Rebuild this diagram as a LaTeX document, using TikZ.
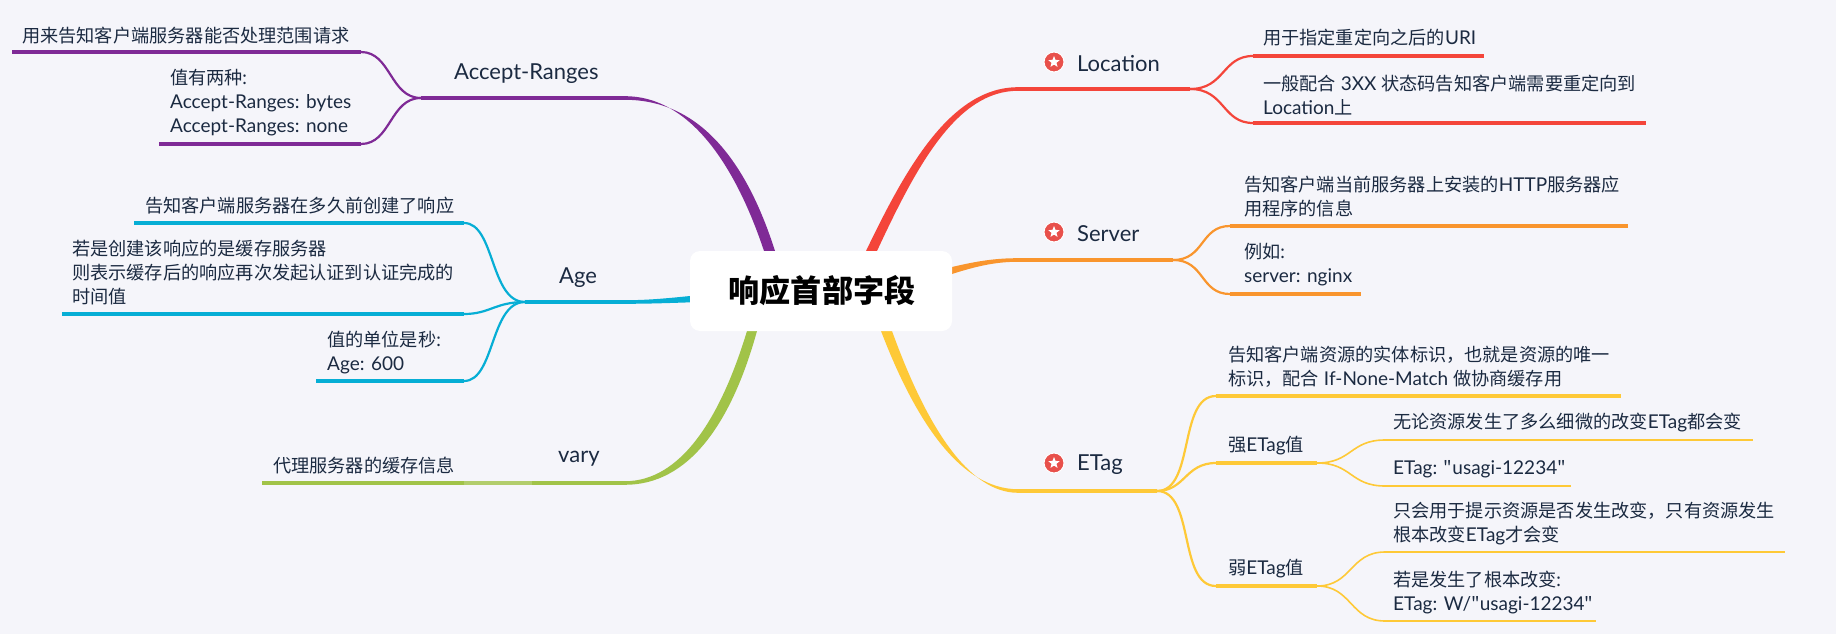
\documentclass[tikz,border=0pt]{standalone}
\usepackage{fontspec}
\setmainfont{Lato}
\newfontfamily\cjk{Noto Sans CJK SC}[Scale=0.957]
\newcommand{\zh}[1]{{\cjk #1}}
\usetikzlibrary{shapes.geometric}
\definecolor{pagebg}{HTML}{F5F5FA}
\definecolor{inkblue}{HTML}{1B2A41}
\definecolor{accLine}{HTML}{7F2A96}
\definecolor{ageLine}{HTML}{06AED5}
\definecolor{varyLine}{HTML}{A1C348}
\definecolor{locLine}{HTML}{F4453A}
\definecolor{srvLine}{HTML}{F9952D}
\definecolor{tagLine}{HTML}{FEC937}
\definecolor{iconRed}{HTML}{E8504B}
\tikzset{txt/.style = {anchor = west, inner sep = 0, align = left, text = inkblue, font = \fontsize{19}{24}\selectfont}}
\tikzset{lbl/.style = {anchor = west, inner sep = 0, yshift = -1.5pt, text = inkblue, font = \fontsize{22}{24}\selectfont}}
\tikzset{leaf/.style = {line width = 3.2pt}}
\tikzset{twig/.style = {line width = 2.2pt}}
\tikzset{iconball/.style = {circle, fill = iconRed, draw = white, line width = 1pt, inner sep = 0, minimum size = 20pt}}
\tikzset{iconstar/.style = {star, star points = 5, star point ratio = 2.3, fill = white, inner sep = 0, minimum size = 12pt}}
\begin{document}
\begin{tikzpicture}[x=1pt, y=-1pt]
\fill[pagebg] (0,0) rectangle (1836,634);
\useasboundingbox (0,0) rectangle (1836,634);

% thick branches running out of the hub
\fill[accLine] (625,96.2) .. controls (692,96.2) and (737,170) .. (764,251) -- (775,251) .. controls (746,160) and (699,99.8) .. (625,99.8) -- cycle;
\fill[locLine] (1018,87.2) .. controls (950,87.2) and (905,170) .. (866,251) -- (877,251) .. controls (917,165) and (957,90.8) .. (1018,90.8) -- cycle;
\fill[srvLine] (1018,258.2) .. controls (995,258.2) and (975,261) .. (940,270) -- (940,278) .. controls (975,266) and (995,261.8) .. (1018,261.8) -- cycle;
\fill[ageLine] (625,300.2) .. controls (650,300.2) and (670,298) .. (700,295) -- (700,302) .. controls (670,303) and (650,303.8) .. (625,303.8) -- cycle;
\fill[varyLine] (625,481.2) .. controls (680,481.2) and (720,420) .. (747,331) -- (757,331) .. controls (731,425) and (688,484.8) .. (625,484.8) -- cycle;
\fill[tagLine] (1018,489.2) .. controls (960,489.2) and (915,420) .. (881,331) -- (892,331) .. controls (926,425) and (968,492.8) .. (1018,492.8) -- cycle;

\node (hub) [fill = white, rounded corners = 10pt, minimum width = 262pt, minimum height = 80pt, inner sep = 0, font = \fontsize{32.5}{36}\selectfont\bfseries\cjk] at (821,291) {\hspace{2pt}响应首部字段};

% Accept-Ranges
\coordinate (accRoot) at (625,98);
\coordinate (accFork) at (421,98);
\coordinate (accA) at (361,52);
\coordinate (accB) at (361,144);
\coordinate (accAend) at (12,52);
\coordinate (accBend) at (159,144);
\node (accLbl) [lbl] at (454,72) {Accept-Ranges};
\node (accTxtA) [txt] at (22,35.5) {\zh{用来告知客户端服务器能否处理范围请求}};
\node (accTxtB) [txt] at (170,103) {\zh{值有两种:}\\Accept-Ranges: bytes\\Accept-Ranges: none};
\draw [accLine, leaf] (accRoot) -- (accFork);
\draw [accLine, twig] (accFork) .. controls (390,98) and (391,52) .. (accA);
\draw [accLine, twig] (accFork) .. controls (390,98) and (391,144) .. (accB);
\draw [accLine, leaf] (accA) -- (accAend);
\draw [accLine, leaf] (accB) -- (accBend);

% Age
\coordinate (ageRoot) at (625,302);
\coordinate (ageFork) at (525,302);
\coordinate (ageA) at (464,223);
\coordinate (ageB) at (464,314);
\coordinate (ageC) at (464,381);
\coordinate (ageAend) at (134,223);
\coordinate (ageBend) at (62,314);
\coordinate (ageCend) at (316,381);
\node (ageLbl) [lbl] at (559,276) {Age};
\node (ageTxtA) [txt] at (145,205.5) {\zh{告知客户端服务器在多久前创建了响应}};
\node (ageTxtB) [txt] at (72,273) {\zh{若是创建该响应的是缓存服务器}\\\zh{则表示缓存后的响应再次发起认证到认证完成的}\\\zh{时间值}};
\node (ageTxtC) [txt] at (327,352.5) {\zh{值的单位是秒:}\\Age: 600};
\draw [ageLine, leaf] (ageRoot) -- (ageFork);
\draw [ageLine, twig] (ageFork) .. controls (490,302) and (495,223) .. (ageA);
\draw [ageLine, twig] (ageFork) .. controls (495,302) and (490,314) .. (ageB);
\draw [ageLine, twig] (ageFork) .. controls (490,302) and (495,381) .. (ageC);
\draw [ageLine, leaf] (ageA) -- (ageAend);
\draw [ageLine, leaf] (ageB) -- (ageBend);
\draw [ageLine, leaf] (ageC) -- (ageCend);

% vary
\coordinate (varyRoot) at (625,483);
\coordinate (varyFork) at (532,483);
\coordinate (varyA) at (464,483);
\coordinate (varyAend) at (262,483);
\node (varyLbl) [lbl] at (558,457) {vary};
\node (varyTxtA) [txt] at (273,466) {\zh{代理服务器的缓存信息}};
\draw [varyLine, leaf] (varyRoot) -- (varyFork);
\draw [varyLine!80!pagebg, leaf] (varyFork) -- (varyA);
\draw [varyLine, leaf] (varyA) -- (varyAend);

% Location
\coordinate (locRoot) at (1018,89);
\coordinate (locFork) at (1190,89);
\coordinate (locA) at (1253,56);
\coordinate (locB) at (1253,123);
\coordinate (locAend) at (1484,56);
\coordinate (locBend) at (1646,123);
\node (locIcon) [iconball] at (1054,62) {};
\node (locStar) [iconstar] at (locIcon) {};
\node (locLbl) [lbl] at (1077,62) {Location};
\node (locTxtA) [txt] at (1263,38) {\zh{用于指定重定向之后的}URI};
\node (locTxtB) [txt] at (1263,95) {\zh{一般配合} 3XX \zh{状态码告知客户端需要重定向到}\\Location\zh{上}};
\draw [locLine, leaf] (locRoot) -- (locFork);
\draw [locLine, twig] (locFork) .. controls (1225,89) and (1222,56) .. (locA);
\draw [locLine, twig] (locFork) .. controls (1225,89) and (1222,123) .. (locB);
\draw [locLine, leaf] (locA) -- (locAend);
\draw [locLine, leaf] (locB) -- (locBend);

% Server
\coordinate (srvRoot) at (1018,260);
\coordinate (srvFork) at (1173,260);
\coordinate (srvA) at (1230,226);
\coordinate (srvB) at (1230,294);
\coordinate (srvAend) at (1628,226);
\coordinate (srvBend) at (1361,294);
\node (srvIcon) [iconball] at (1054,232) {};
\node (srvStar) [iconstar] at (srvIcon) {};
\node (srvLbl) [lbl] at (1077,232) {Server};
\node (srvTxtA) [txt] at (1244,196.5) {\zh{告知客户端当前服务器上安装的}HTTP\zh{服务器应}\\\zh{用程序的信息}};
\node (srvTxtB) [txt] at (1244,265) {\zh{例如:}\\server: nginx};
\draw [srvLine, leaf] (srvRoot) -- (srvFork);
\draw [srvLine, twig] (srvFork) .. controls (1205,260) and (1200,226) .. (srvA);
\draw [srvLine, twig] (srvFork) .. controls (1205,260) and (1200,294) .. (srvB);
\draw [srvLine, leaf] (srvA) -- (srvAend);
\draw [srvLine, leaf] (srvB) -- (srvBend);

% ETag and its two value kinds
\coordinate (tagRoot) at (1018,491);
\coordinate (tagFork) at (1157,491);
\coordinate (tagA) at (1216,396);
\coordinate (tagB) at (1216,463);
\coordinate (tagC) at (1216,586);
\coordinate (tagAend) at (1621,396);
\coordinate (tagBend) at (1317,463);
\coordinate (tagCend) at (1317,586);
\coordinate (strA) at (1385,440);
\coordinate (strB) at (1385,486);
\coordinate (strAend) at (1753,440);
\coordinate (strBend) at (1571,486);
\coordinate (wkA) at (1385,552);
\coordinate (wkB) at (1385,621);
\coordinate (wkAend) at (1785,552);
\coordinate (wkBend) at (1596,621);
\node (tagIcon) [iconball] at (1054,463) {};
\node (tagStar) [iconstar] at (tagIcon) {};
\node (tagLbl) [lbl] at (1077,463) {ETag};
\node (tagTxtA) [txt] at (1228,367) {\zh{告知客户端资源的实体标识，也就是资源的唯一}\\\zh{标识，配合} If-None-Match \zh{做协商缓存用}};
\node (tagTxtB) [txt] at (1228,446) {\zh{强}ETag\zh{值}};
\node (tagTxtC) [txt] at (1228,569) {\zh{弱}ETag\zh{值}};
\node (strTxtA) [txt] at (1393,423) {\zh{无论资源发生了多么细微的改变}ETag\zh{都会变}};
\node (strTxtB) [txt] at (1393,469) {ETag: \zh{"}usagi-12234\zh{"}};
\node (wkTxtA) [txt] at (1393,523.5) {\zh{只会用于提示资源是否发生改变，只有资源发生}\\\zh{根本改变}ETag\zh{才会变}};
\node (wkTxtB) [txt] at (1393,592.5) {\zh{若是发生了根本改变:}\\ETag: W/\zh{"}usagi-12234\zh{"}};
\draw [tagLine, leaf] (tagRoot) -- (tagFork);
\draw [tagLine, twig] (tagFork) .. controls (1195,491) and (1178,396) .. (tagA);
\draw [tagLine, twig] (tagFork) .. controls (1185,491) and (1185,463) .. (tagB);
\draw [tagLine, twig] (tagFork) .. controls (1195,491) and (1178,586) .. (tagC);
\draw [tagLine, leaf] (tagA) -- (tagAend);
\draw [tagLine, line width = 3.5pt] (tagB) -- (tagBend);
\draw [tagLine, line width = 3.5pt] (tagC) -- (tagCend);
\draw [tagLine, line width = 1.6pt] (tagBend) .. controls (1352,463) and (1350,440) .. (strA);
\draw [tagLine, line width = 1.6pt] (tagBend) .. controls (1352,463) and (1350,486) .. (strB);
\draw [tagLine, line width = 1.6pt] (tagCend) .. controls (1352,586) and (1350,552) .. (wkA);
\draw [tagLine, line width = 1.6pt] (tagCend) .. controls (1352,586) and (1350,621) .. (wkB);
\draw [tagLine, line width = 2.2pt] (strA) -- (strAend);
\draw [tagLine, line width = 2.2pt] (strB) -- (strBend);
\draw [tagLine, line width = 2.2pt] (wkA) -- (wkAend);
\draw [tagLine, line width = 2.2pt] (wkB) -- (wkBend);
\end{tikzpicture}
\end{document}
